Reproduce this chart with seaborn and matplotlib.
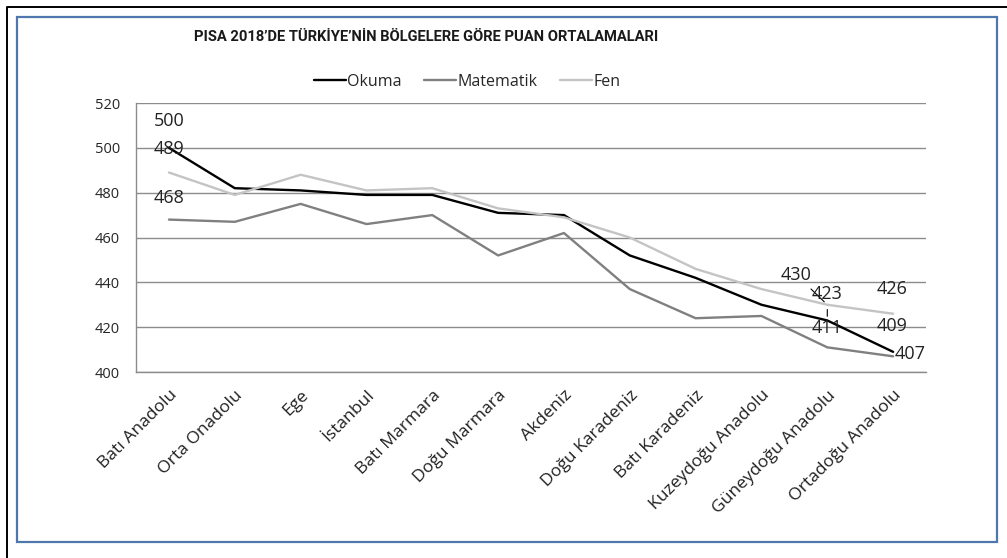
import matplotlib
matplotlib.use("Agg")
import matplotlib.pyplot as plt
import numpy as np
import pandas as pd
import seaborn as sns
from matplotlib.lines import Line2D
from matplotlib.patches import Rectangle


REGIONS = [
    "Batı Anadolu", "Orta Onadolu", "Ege", "İstanbul", "Batı Marmara",
    "Doğu Marmara", "Akdeniz", "Doğu Karadeniz", "Batı Karadeniz",
    "Kuzeydoğu Anadolu", "Güneydoğu Anadolu", "Ortadoğu Anadolu",
]
OKUMA = [500, 482, 481, 479, 479, 471, 470, 452, 442, 430, 423, 409]
MATEMATIK = [468, 467, 475, 466, 470, 452, 462, 437, 424, 425, 411, 407]
FEN = [489, 479, 488, 481, 482, 473, 469, 460, 446, 437, 430, 426]
SERIES = ["Okuma", "Matematik", "Fen"]
COLORS = ["#000000", "#808080", "#c4c4c4"]
TITLE = "PISA 2018\u2019DE TÜRKİYE\u2019NİN BÖLGELERE GÖRE PUAN ORTALAMALARI"

# pixel offsets of the value labels, (series, point index) -> (dx, dy)
LABEL_OFFSETS = {
    ("Okuma", 0): (0, 27), ("Fen", 0): (0, 24), ("Matematik", 0): (0, 22),
    ("Fen", 10): (-31, 30), ("Okuma", 10): (0, 26), ("Matematik", 10): (0, 19),
    ("Fen", 11): (-1, 25), ("Okuma", 11): (-1, 26), ("Matematik", 11): (17, 2),
}
LEADERS = {("Fen", 10), ("Okuma", 10)}


def main():
    sns.set_style("white")
    plt.rcParams["font.family"] = ["Open Sans", "DejaVu Sans"]

    values = {"Okuma": OKUMA, "Matematik": MATEMATIK, "Fen": FEN}
    df = pd.DataFrame(
        [
            {"pos": i, "bolge": r, "ders": s, "puan": values[s][i]}
            for s in SERIES
            for i, r in enumerate(REGIONS)
        ]
    )

    fig = plt.figure(figsize=(10.07, 5.58), dpi=100)
    ax = fig.add_axes([0.1351, 0.3333, 0.7845, 0.4821])

    sns.lineplot(
        data=df, x="pos", y="puan", hue="ders", hue_order=SERIES,
        palette=COLORS, linewidth=1.7, ax=ax,
    )

    ax.set_xlim(-0.5, len(REGIONS) - 0.5)
    ax.set_ylim(400, 520)
    ax.set_yticks(np.arange(400, 521, 20))
    ax.set_xticks(np.arange(len(REGIONS)))
    ax.set_xticklabels(REGIONS, rotation=45, ha="right", rotation_mode="anchor",
                       color="#222222")
    ax.set_xticks(np.arange(len(REGIONS) + 1) - 0.5, minor=True)
    ax.tick_params(axis="x", which="major", length=0, pad=11, labelsize=12.6)
    ax.tick_params(axis="x", which="minor", length=4.5, color="#8c8c8c", width=1)
    ax.tick_params(axis="y", length=4.5, color="#8c8c8c", width=1, pad=7, labelsize=10.5)
    ax.set_xlabel("")
    ax.set_ylabel("")
    ax.grid(axis="y", color="#8c8c8c", linewidth=1)
    ax.set_axisbelow(True)
    for side in ["top", "right"]:
        ax.spines[side].set_visible(False)
    for side in ["left", "bottom"]:
        ax.spines[side].set_color("#8c8c8c")
        ax.spines[side].set_linewidth(1)

    for (s, i), (dx, dy) in LABEL_OFFSETS.items():
        y = values[s][i]
        arrow = dict(arrowstyle="-", color="#000000", lw=0.8, shrinkA=2, shrinkB=3) if (s, i) in LEADERS else None
        ax.annotate(
            str(y), xy=(i, y), xytext=(dx, dy), textcoords="offset pixels",
            ha="center", va="center", fontsize=13, color="#222222",
            arrowprops=arrow,
        )

    sns.move_legend(
        ax, "center", bbox_to_anchor=(0.464, 0.853), bbox_transform=fig.transFigure,
        ncol=3, frameon=False, title=None, fontsize=11.5, handlelength=2.0,
        handletextpad=0.1, columnspacing=1.4,
    )

    fig.text(0.423, 0.933, TITLE, ha="center", va="center", fontsize=10.6,
             fontweight="bold", family=["Roboto", "DejaVu Sans"], color="#1a1a1a")

    # frames: blue chart border and the black outer line
    fig.add_artist(Rectangle((17 / 1007, 1 - 542 / 558), 980 / 1007, 525 / 558,
                             transform=fig.transFigure, fill=False,
                             edgecolor="#4f77ad", linewidth=1.6))
    fig.add_artist(Line2D([7 / 1007, 7 / 1007, 1], [0, 1 - 6.5 / 558, 1 - 6.5 / 558],
                          transform=fig.transFigure, color="#000000", linewidth=1.4))

    fig.savefig("out.png", dpi=100)
    plt.close(fig)


if __name__ == "__main__":
    main()
